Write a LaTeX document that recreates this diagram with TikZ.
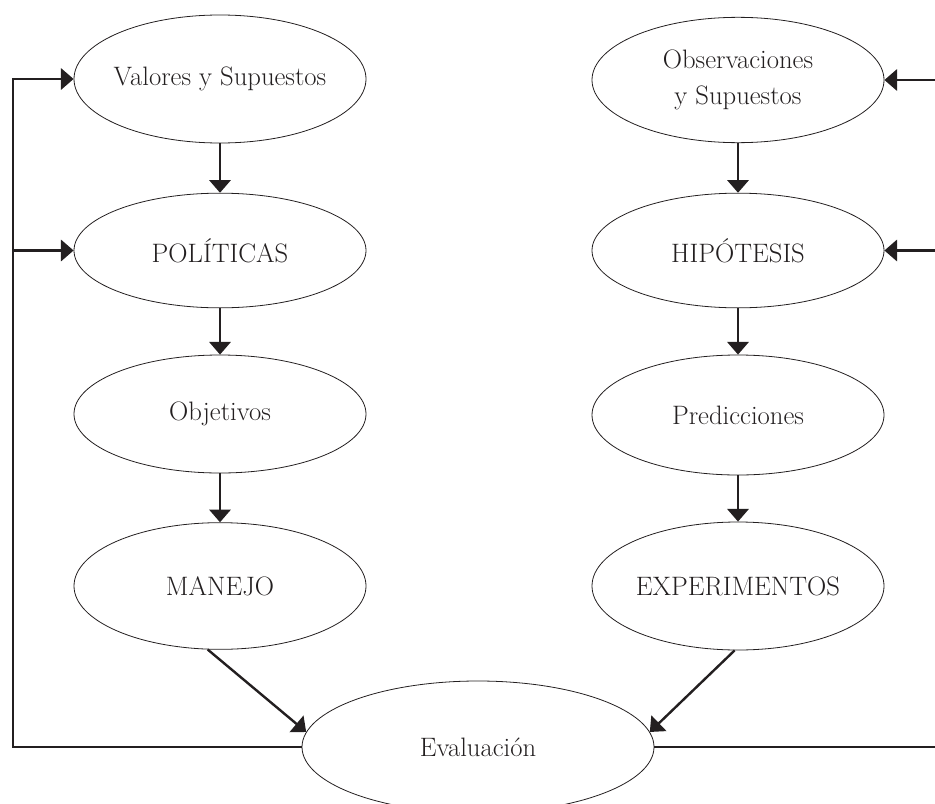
\documentclass[tikz,border=0pt]{standalone}
\usepackage{fontspec}
\usetikzlibrary{shapes.geometric,arrows.meta}
\definecolor{tinta}{HTML}{231F20}
\begin{document}
\begin{tikzpicture}[x=0.75pt,y=-0.75pt,
  elipse/.style={draw=tinta,line width=0.6pt,ellipse,inner xsep=-60pt,inner ysep=0pt,
    minimum width=219pt,minimum height=#1,text=tinta,align=center,
    font=\fontsize{20}{27.5}\selectfont},
  flecha/.style={draw=tinta,line width=1.8pt,-{Triangle[length=9.5pt,width=16pt]}}]
\useasboundingbox (0,0) rectangle (935,803);
% columna izquierda
\node[elipse=96pt] (val) at (220,79) {Valores y Supuestos};
\node[elipse=86pt] (pol) at (220,250.5) {POLÍTICAS};
\node[elipse=88.5pt] (obj) at (220,414) {Objetivos};
\node[elipse=95pt] (man) at (220,586) {MANEJO};
% columna derecha
\node[elipse=94pt] (obs) at (738,80) {Observaciones\\y Supuestos};
\node[elipse=86pt] (hip) at (738,250.5) {HIPÓTESIS};
\node[elipse=90pt] (pre) at (738,415) {Predicciones};
\node[elipse=96pt] (exp) at (738,586) {EXPERIMENTOS};
% abajo
\node[elipse=99pt,minimum width=264pt] (eva) at (478,747) {Evaluación};
\coordinate (izq) at (13,747);
\coordinate (der) at (940,747);
\draw[flecha] (val) -- (pol);
\draw[flecha] (pol) -- (obj);
\draw[flecha] (obj) -- (man);
\draw[flecha] (obs) -- (hip);
\draw[flecha] (hip) -- (pre);
\draw[flecha] (pre) -- (exp);
\draw[flecha] (man.259) -- (eva.175);
\draw[flecha] (exp.267) -- (eva.5);
% retroalimentacion
\draw[flecha] (eva.west) -- (izq) |- (val.west);
\draw[flecha] (izq |- pol.west) -- (pol.west);
\draw[flecha] (eva.east) -- (der) |- (obs.east);
\draw[flecha] (der |- hip.east) -- (hip.east);
\end{tikzpicture}
\end{document}
